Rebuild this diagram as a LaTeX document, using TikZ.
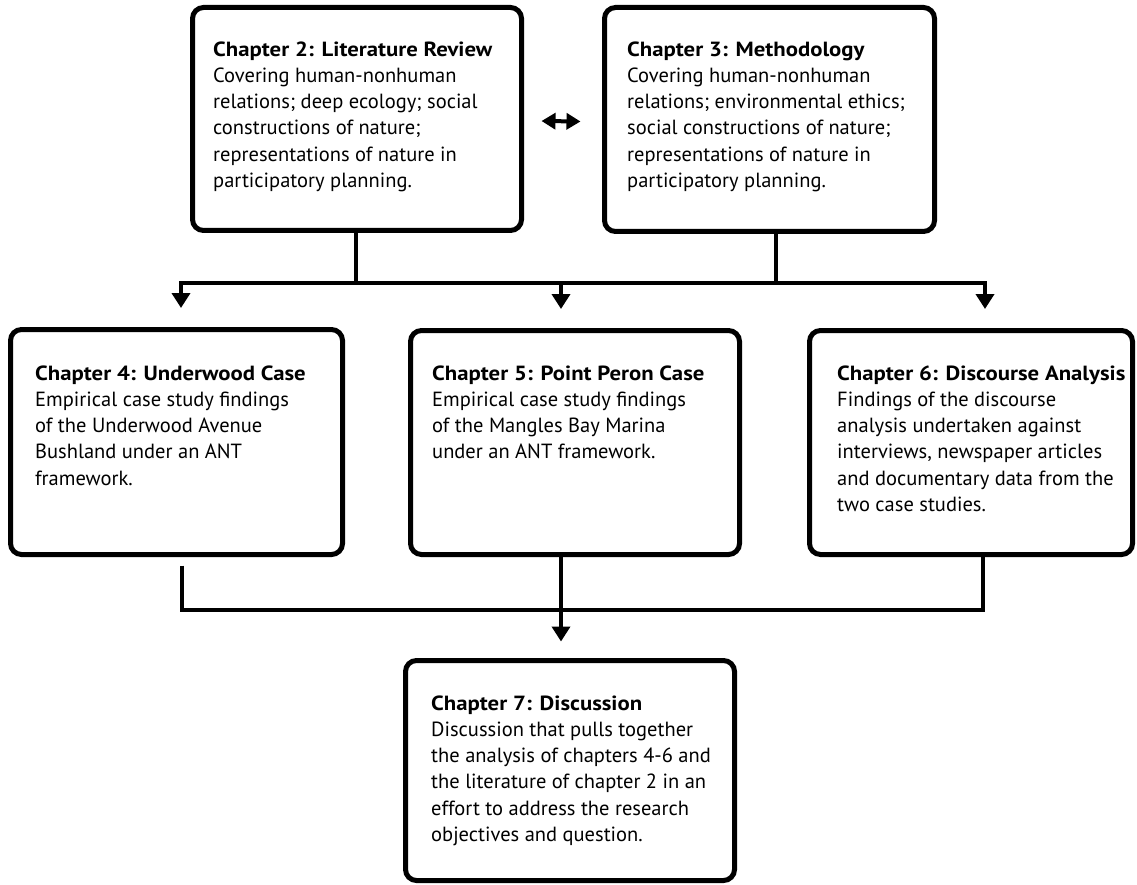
\documentclass[tikz,border=0pt]{standalone}
\usepackage{fontspec}
\setmainfont{PT Sans}[BoldFeatures={FakeStretch=1.11}]
\usetikzlibrary{arrows.meta}
\begin{document}
\begin{tikzpicture}[x=1pt,y=-1pt,
  box/.style={draw=black,line width=5pt,rounded corners=11pt,fill=white,inner sep=0pt},
  conn/.style={draw=black,line width=4pt,line cap=butt,line join=miter},
  tip/.style={-{Triangle[length=15pt,width=18pt]}},
  both/.style={{Triangle[length=14pt,width=16pt]}-{Triangle[length=14pt,width=16pt]}},
  txt/.style={anchor=north west,inner sep=0pt,align=left,
    font=\fontsize{20.5}{26.2}\selectfont}]
\useasboundingbox (0,0) rectangle (1137,885);

% chapter boxes
\node[box,minimum width=329pt,minimum height=223pt] (c2) at (357,119) {};
\node[box,minimum width=330pt,minimum height=224pt] (c3) at (769.5,119.5) {};
\node[box,minimum width=332pt,minimum height=225pt] (c4) at (176.5,442) {};
\node[box,minimum width=329pt,minimum height=224pt] (c5) at (575,442.5) {};
\node[box,minimum width=323pt,minimum height=224pt] (c6) at (971,442.5) {};
\node[box,minimum width=329pt,minimum height=220pt] (c7) at (570,770.5) {};

% junction points of the connectors
\coordinate (hub) at (561,283);
\coordinate (join) at (561,610);

% chapter 2 <-> chapter 3
\draw[conn,both] ([shift={(17.5,2)}]c2.east) -- ([shift={(-21.5,2)}]c3.west);

% chapters 2 and 3 feed chapters 4--6
\draw[conn] ([xshift=-1pt]c2.south) -- ([xshift=-1pt]c2.south |- hub);
\draw[conn] ([xshift=6.5pt]c3.south) -- ([xshift=6.5pt]c3.south |- hub);
\draw[conn,tip,shorten >=19pt] (hub) -| ([xshift=4.5pt]c4.north);
\draw[conn,tip,shorten >=19pt] (hub) -| ([xshift=14pt]c6.north);
\draw[conn,tip,shorten >=19pt] (hub) -- ([xshift=-14pt]c5.north);

% chapters 4--6 feed chapter 7
\draw[conn,shorten <=8.5pt] ([xshift=5.5pt]c4.south) |- (join) -| ([xshift=12pt]c6.south);
\draw[conn,tip,shorten >=16.5pt] ([xshift=-14pt]c5.south) -- ([xshift=-9pt]c7.north);

% box texts
\node[txt] (t2) at (213,37.7) {\strut\textbf{Chapter 2: Literature Review}\\
Covering human-nonhuman\\
relations; deep ecology; social\\
constructions of nature;\\
representations of nature in\\
participatory planning.};
\node[txt] (t3) at (627,37.7) {\strut\textbf{Chapter 3: Methodology}\\
Covering human-nonhuman\\
relations; environmental ethics;\\
social constructions of nature;\\
representations of nature in\\
participatory planning.};
\node[txt] (t4) at (35,361.7) {\strut\textbf{Chapter 4: Underwood Case}\\
Empirical case study findings\\
of the Underwood Avenue\\
Bushland under an ANT\\
framework.};
\node[txt] (t5) at (432,361.7) {\strut\textbf{Chapter 5: Point Peron Case}\\
Empirical case study findings\\
of the Mangles Bay Marina\\
under an ANT framework.};
\node[txt] (t6) at (837,361.7) {\strut\textbf{Chapter 6: Discourse Analysis}\\
Findings of the discourse\\
analysis undertaken against\\
interviews, newspaper articles\\
and documentary data from the\\
two case studies.};
\node[txt] (t7) at (431,691.7) {\strut\textbf{Chapter 7: Discussion}\\
Discussion that pulls together\\
the analysis of chapters 4-6 and\\
the literature of chapter 2 in an\\
effort to address the research\\
objectives and question.};
\end{tikzpicture}
\end{document}
